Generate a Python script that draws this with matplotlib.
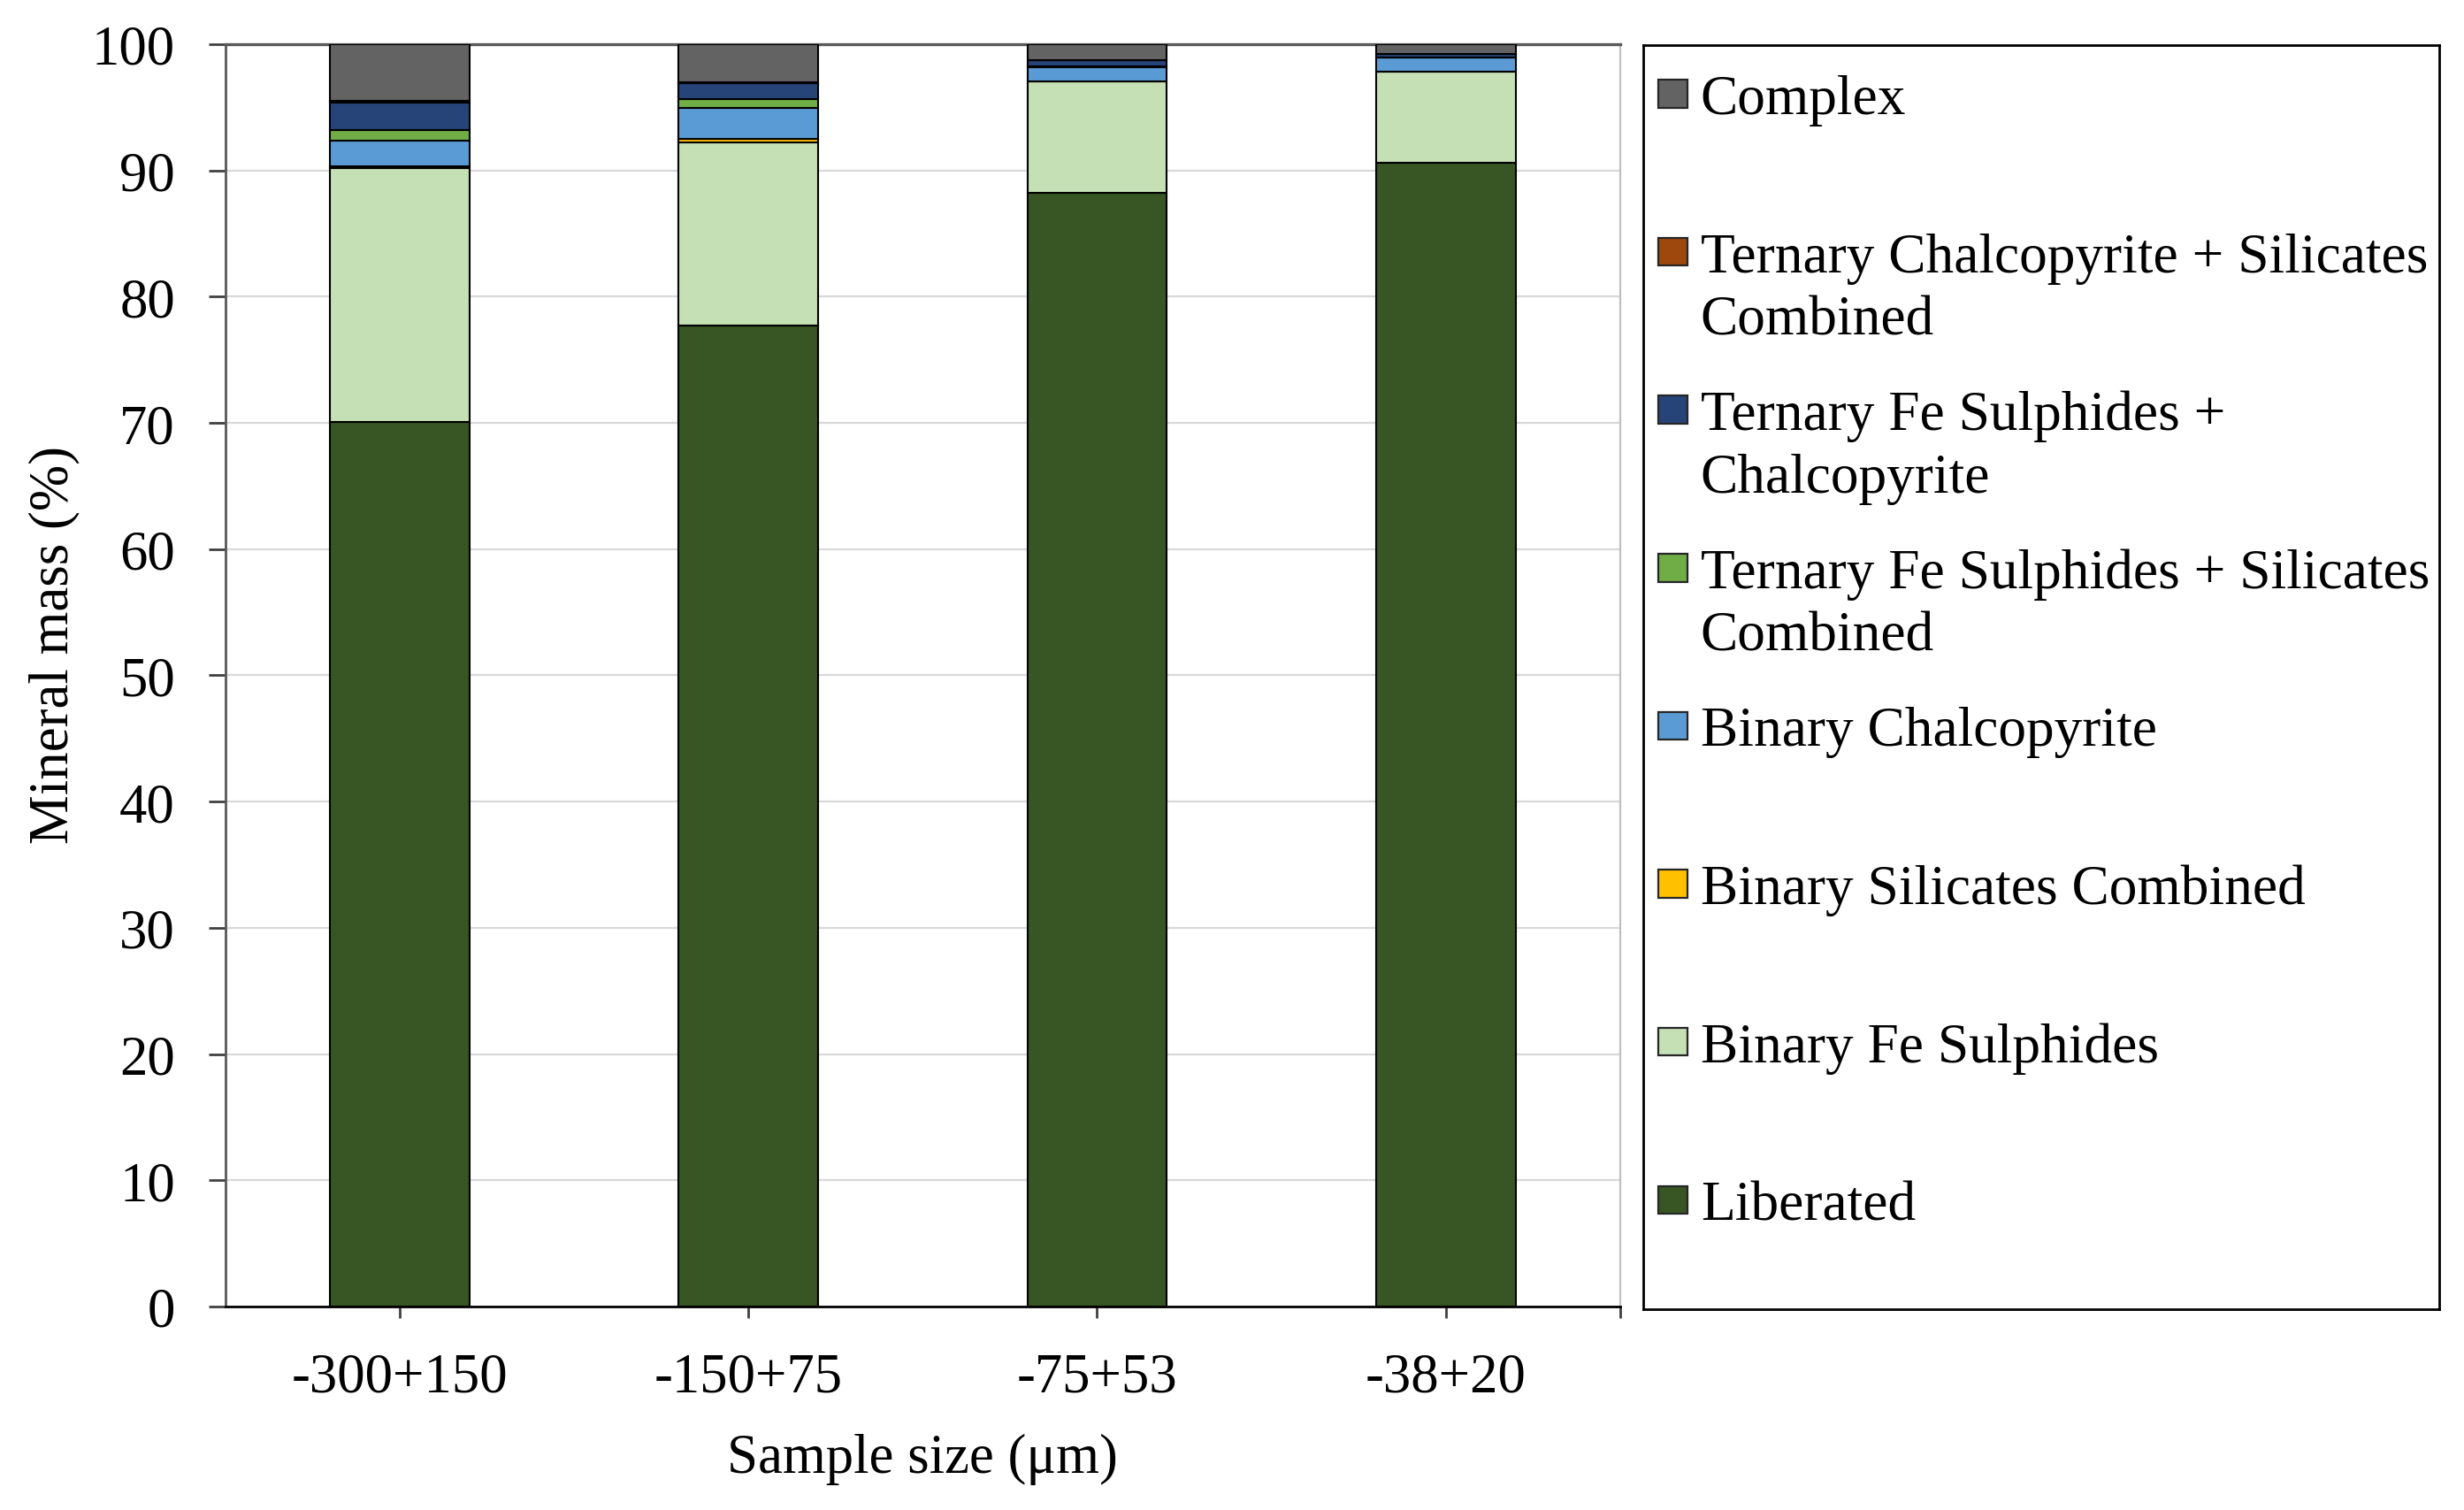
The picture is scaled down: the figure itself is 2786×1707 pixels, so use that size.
import numpy as np
import matplotlib
matplotlib.use("Agg")
import matplotlib.pyplot as plt
from matplotlib.patches import Rectangle

plt.rcParams['font.family'] = ['Liberation Serif', 'DejaVu Serif']

# sample size classes
sizes = ["-300+150", "-150+75", "-75+53", "-38+20"]

# mineral mass (%) per association class, bottom to top of each stack
liberated = [70.1, 77.7, 88.2, 90.6]
binary_fe_sulphides = [20.1, 14.5, 8.85, 7.2]
binary_silicates = [0.15, 0.3, 0.03, 0.03]
binary_chalcopyrite = [2.0, 2.45, 1.1, 1.1]
ternary_fe_silicates = [0.85, 0.7, 0.03, 0.03]
ternary_fe_chalcopyrite = [2.2, 1.25, 0.5, 0.25]
ternary_chalco_silicates = [0.1, 0.05, 0.02, 0.02]
complex_ = [4.5, 3.05, 1.26, 0.77]

series = [
    ("Liberated", liberated, "#375623"),
    ("Binary Fe Sulphides", binary_fe_sulphides, "#C5E0B4"),
    ("Binary Silicates Combined", binary_silicates, "#FFC000"),
    ("Binary Chalcopyrite", binary_chalcopyrite, "#5B9BD5"),
    ("Ternary Fe Sulphides + Silicates\nCombined", ternary_fe_silicates, "#70AD47"),
    ("Ternary Fe Sulphides +\nChalcopyrite", ternary_fe_chalcopyrite, "#264478"),
    ("Ternary Chalcopyrite + Silicates\nCombined", ternary_chalco_silicates, "#9E480E"),
    ("Complex", complex_, "#636363"),
]

fig = plt.figure(figsize=(13.93, 8.54), dpi=200)
ax = fig.add_axes([0.0915, 0.1347, 0.566, 0.8355])

x = np.arange(len(sizes))
bottom = np.zeros(len(sizes))
for name, vals, color in series:
    ax.bar(x, vals, width=0.4, bottom=bottom, color=color,
           edgecolor="black", linewidth=0.75, zorder=3)
    bottom += np.array(vals)

ax.set_xlim(-0.5, 3.5)
ax.set_ylim(0, 100)
ax.set_yticks(np.arange(0, 101, 10))
ax.set_xticks(x)
ax.set_xticklabels(sizes)
ax.set_xticks([3.5], minor=True)
ax.yaxis.grid(True, color="#d9d9d9", linewidth=0.8, zorder=0)
ax.tick_params(axis="y", length=7, width=1.0, color="#404040", pad=13.5, labelsize=22.6)
ax.tick_params(axis="x", which="both", length=4.7, width=1.0, color="#404040",
               pad=14, labelsize=22.6)

ax.spines["left"].set_color("#595959")
ax.spines["left"].set_linewidth(1.0)
ax.spines["top"].set_color("#595959")
ax.spines["top"].set_linewidth(1.2)
ax.spines["right"].set_color("#bfbfbf")
ax.spines["right"].set_linewidth(0.8)
ax.spines["bottom"].set_color("black")
ax.spines["bottom"].set_linewidth(1.0)

ax.set_ylabel("Mineral mass (%)", fontsize=22.6)
ax.yaxis.set_label_coords(-0.104, 0.525)
ax.set_xlabel("Sample size (\u03bcm)", fontsize=22.6, labelpad=12)

# legend box, drawn in its own axes in Excel style
lax = fig.add_axes([0.6669, 0.1329, 0.323, 0.8367])
lax.set_xlim(0, 1)
lax.set_ylim(0, 1)
lax.set_xticks([])
lax.set_yticks([])
for sp in lax.spines.values():
    sp.set_color("black")
    sp.set_linewidth(1.0)

box_w = 0.0366
box_h = 0.022
for i, (name, vals, color) in enumerate(reversed(series)):
    yc = 0.9615 - i * 0.125
    lax.add_patch(Rectangle((0.019, yc - box_h / 2), box_w, box_h,
                            facecolor=color, edgecolor="#262626", linewidth=0.8))
    for j, line in enumerate(name.split("\n")):
        lax.text(0.072, yc - j * 0.0497, line, fontsize=22.8,
                 va="center_baseline", ha="left")

fig.savefig("out.png", dpi=200)
